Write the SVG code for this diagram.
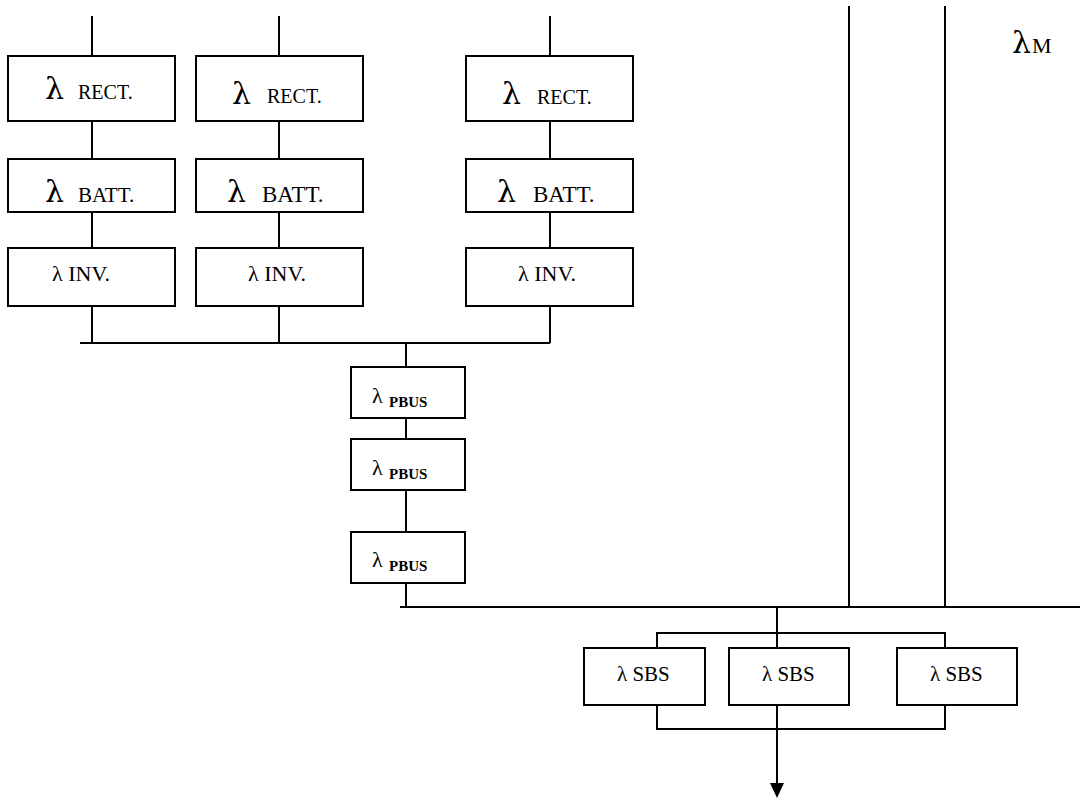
<svg xmlns="http://www.w3.org/2000/svg" width="1080" height="800" viewBox="0 0 1080 800">
<style>
.box{fill:#fff;stroke:#000;stroke-width:2}
.ln{fill:none;stroke:#000;stroke-width:2}
text{font-family:"Liberation Serif","Times New Roman",serif;fill:#000}
.lam{font-size:30px;font-family:"DejaVu Serif","Liberation Serif",serif}
.sm{font-size:20px}
.inv{font-size:22px}
.pl{font-size:22px}
.pb{font-size:15px;font-weight:bold}
.sbs{font-size:21px}
</style>
<rect width="1080" height="800" fill="#fff"/>
<g id="connectors">
<path class="ln" d="M92,16V56M92,121V159M92,212V248M92,306V343"/>
<path class="ln" d="M279,16V56M279,121V159M279,212V248M279,306V343"/>
<path class="ln" d="M550,16V56M550,121V159M550,212V248M550,306V343"/>
<path class="ln" d="M80,343H550"/>
<path class="ln" d="M406,343V367M406,418V439M406,490V532M406,583V607"/>
<path class="ln" d="M400,607H1080"/>
<path class="ln" d="M849,6V607M945,6V607"/>
<path class="ln" d="M777,607V648M657,648V633H945V648"/>
<path class="ln" d="M657,705V729H945V705"/>
<path class="ln" d="M777,705V785"/>
<polygon points="770,783 784,783 777,798" fill="#000"/>
</g>
<g id="rect1"><rect class="box" x="8" y="56" width="167" height="65"/><text class="lam" x="45" y="99">λ</text><text class="sm" x="78" y="99">RECT.</text></g>
<g id="rect2"><rect class="box" x="196" y="56" width="167" height="65"/><text class="lam" x="232" y="104">λ</text><text class="sm" x="267" y="103">RECT.</text></g>
<g id="rect3"><rect class="box" x="466" y="56" width="167" height="65"/><text class="lam" x="502" y="104">λ</text><text class="sm" x="537" y="104">RECT.</text></g>
<g id="batt1"><rect class="box" x="8" y="159" width="167" height="53"/><text class="lam" x="45" y="202">λ</text><text style="font-size:21px" x="78" y="202">BATT.</text></g>
<g id="batt2"><rect class="box" x="196" y="159" width="167" height="53"/><text class="lam" x="227" y="202">λ</text><text style="font-size:23px" x="262" y="202">BATT.</text></g>
<g id="batt3"><rect class="box" x="466" y="159" width="167" height="53"/><text class="lam" x="497" y="202">λ</text><text style="font-size:23px" x="533" y="202">BATT.</text></g>
<g id="inv1"><rect class="box" x="8" y="248" width="167" height="58"/><text class="inv" x="52" y="281">λ INV.</text></g>
<g id="inv2"><rect class="box" x="196" y="248" width="167" height="58"/><text class="inv" x="248" y="281">λ INV.</text></g>
<g id="inv3"><rect class="box" x="466" y="248" width="167" height="58"/><text class="inv" x="518" y="281">λ INV.</text></g>
<g id="pbus1"><rect class="box" x="351" y="367" width="114" height="51"/><text class="pl" x="372" y="403">λ</text><text class="pb" x="389" y="407">PBUS</text></g>
<g id="pbus2"><rect class="box" x="351" y="439" width="114" height="51"/><text class="pl" x="372" y="475">λ</text><text class="pb" x="389" y="479">PBUS</text></g>
<g id="pbus3"><rect class="box" x="351" y="532" width="114" height="51"/><text class="pl" x="372" y="567">λ</text><text class="pb" x="389" y="571">PBUS</text></g>
<g id="sbs1"><rect class="box" x="584" y="648" width="121" height="57"/><text class="sbs" x="617" y="681">λ SBS</text></g>
<g id="sbs2"><rect class="box" x="729" y="648" width="120" height="57"/><text class="sbs" x="762" y="681">λ SBS</text></g>
<g id="sbs3"><rect class="box" x="897" y="648" width="120" height="57"/><text class="sbs" x="930" y="681">λ SBS</text></g>
<g id="lambdaM"><text style="font-size:30px;font-family:'DejaVu Serif','Liberation Serif',serif" x="1012" y="53">λ</text><text style="font-size:22px" x="1032" y="53">M</text></g>
</svg>
